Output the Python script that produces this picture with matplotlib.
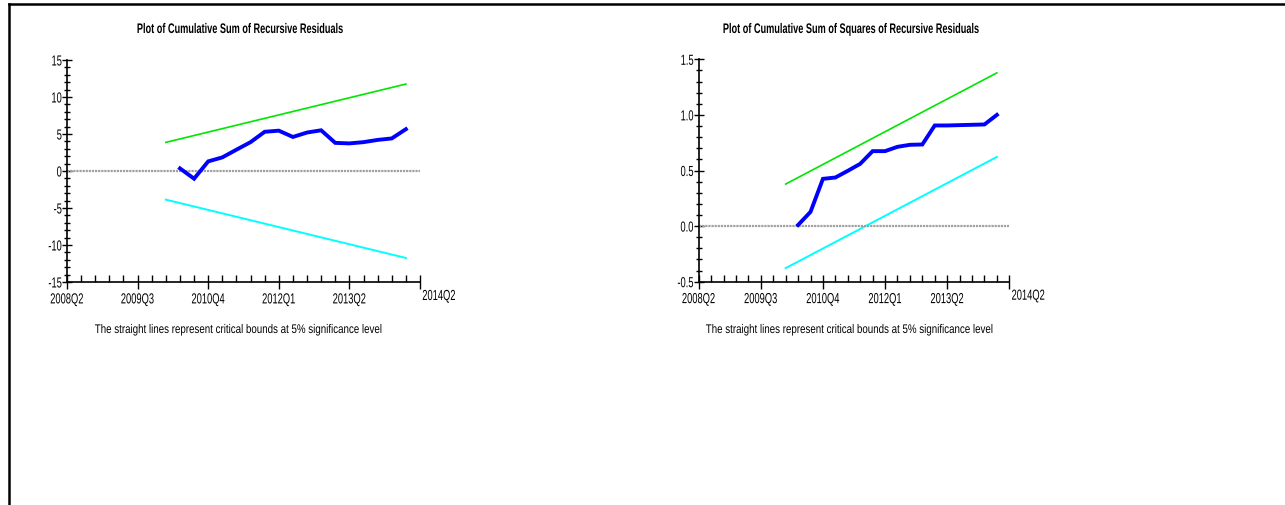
import numpy as np
import matplotlib
matplotlib.use("Agg")
import matplotlib.pyplot as plt
from matplotlib.lines import Line2D
from matplotlib.ticker import MultipleLocator
from matplotlib.patheffects import AbstractPathEffect
from matplotlib.transforms import Affine2D

# quarters counted from 2008Q2 = 0
quarter_ticks = [0, 5, 10, 15, 20]
quarter_labels = ["2008Q2", "2009Q3", "2010Q4", "2012Q1", "2013Q2"]
end_label = "2014Q2"

resid_q = list(range(8, 25))
cusum = [0.35, -1.04, 1.3, 1.84, 2.88, 3.9, 5.3, 5.45, 4.6, 5.2, 5.5,
         3.8, 3.73, 3.9, 4.2, 4.4, 5.65]
cusumsq = [0.01, 0.128, 0.425, 0.437, 0.497, 0.56, 0.674, 0.674, 0.713,
           0.731, 0.734, 0.905, 0.905, 0.908, 0.911, 0.914, 1.0]

# critical bounds (5%), start and end points
bound_q = [7, 24]
cusum_upper = [3.87, 11.75]
cusum_lower = [-3.87, -11.75]
cusumsq_upper = [0.378, 1.378]
cusumsq_lower = [-0.378, 0.622]

plt.rcParams["font.family"] = ["Liberation Sans", "DejaVu Sans"]
plt.rcParams["axes.unicode_minus"] = False


class Squeeze(AbstractPathEffect):
    """Draw text horizontally compressed, like a narrow typeface."""

    def __init__(self, sx=0.7, anchor="center"):
        super().__init__()
        self.sx = sx
        self.anchor = anchor

    def draw_path(self, renderer, gc, tpath, affine, rgbFace=None):
        ext = tpath.get_extents()
        x0 = {"left": ext.x0, "center": (ext.x0 + ext.x1) / 2,
              "right": ext.x1}[self.anchor]
        squash = Affine2D().translate(-x0, 0).scale(self.sx, 1).translate(x0, 0)
        renderer.draw_path(gc, tpath, squash + affine, rgbFace)


W, H = 1285, 506
fig = plt.figure(figsize=(W / 100, H / 100), dpi=100)


def px(x0, y0, x1, y1):
    return [x0 / W, 1 - y1 / H, (x1 - x0) / W, (y1 - y0) / H]


def cusum_panel(rect, ylim, major, minor, fmt, series, upper, lower,
                title, title_x):
    ax = fig.add_axes(rect)
    ax.plot(bound_q, upper, color="#00e600", lw=1.2)
    ax.plot(bound_q, lower, color="#00ffff", lw=1.4)
    ax.axhline(0, color="#a0a0a0", lw=1.6, ls=(0, (1, 0.4)))
    ax.plot(resid_q, series, color="#0000ff", lw=2.8, solid_joinstyle="miter")
    ax.set_xlim(0, 25)
    ax.set_ylim(*ylim)
    for s in ("top", "right"):
        ax.spines[s].set_visible(False)
    for s in ("left", "bottom"):
        ax.spines[s].set_linewidth(1.2)
    ax.set_xticks(quarter_ticks + [25])
    ax.set_xticklabels(quarter_labels + [""])
    ax.xaxis.set_minor_locator(MultipleLocator(1))
    ax.yaxis.set_major_locator(MultipleLocator(major))
    ax.yaxis.set_minor_locator(MultipleLocator(minor))
    ax.yaxis.set_major_formatter(fmt)
    ax.tick_params(axis="x", which="major", direction="inout", length=10,
                   width=1, labelsize=10.5, pad=2.5)
    ax.tick_params(axis="x", which="minor", direction="in", length=5, width=1)
    ax.tick_params(axis="y", which="major", direction="inout", length=7,
                   width=1, labelsize=10.5, pad=0)
    ax.tick_params(axis="y", which="minor", direction="inout", length=4,
                   width=1)
    for lab in ax.get_xticklabels():
        lab.set_path_effects([Squeeze(0.64, "center")])
    for lab in ax.get_yticklabels():
        lab.set_path_effects([Squeeze(0.64, "right")])
    ax.annotate(end_label, xy=(25, ylim[0]), xytext=(2, -7),
                textcoords="offset pixels", ha="left", va="top", fontsize=10.5,
                path_effects=[Squeeze(0.64, "left")])
    fig.text(title_x / W, 1 - 30 / H, title, ha="center", va="center",
             fontsize=10, fontweight="bold",
             path_effects=[Squeeze(0.66, "center")])
    fig.text(title_x / W, 1 - 331 / H,
             "The straight lines represent critical bounds at 5% significance level",
             ha="center", va="center", fontsize=9,
             path_effects=[Squeeze(0.78, "center")])
    return ax


cusum_panel(px(67, 61, 420, 283), (-15, 15), 5, 1, "{x:g}",
            cusum, cusum_upper, cusum_lower,
            "Plot of Cumulative Sum of Recursive Residuals", 240)
cusum_panel(px(698.7, 60.3, 1009.3, 282.7), (-0.5, 1.5), 0.5, 0.1, "{x:.1f}",
            cusumsq, cusumsq_upper, cusumsq_lower,
            "Plot of Cumulative Sum of Squares of Recursive Residuals", 851)

# page frame along the top and left edges
fig.add_artist(Line2D([9 / W, 1284 / W], [1 - 5 / H, 1 - 5 / H],
                      transform=fig.transFigure, color="black", lw=1.8))
fig.add_artist(Line2D([9 / W, 9 / W], [1 - 5 / H, 0],
                      transform=fig.transFigure, color="black", lw=1.8))

fig.savefig("out.png", dpi=100, facecolor="white")
